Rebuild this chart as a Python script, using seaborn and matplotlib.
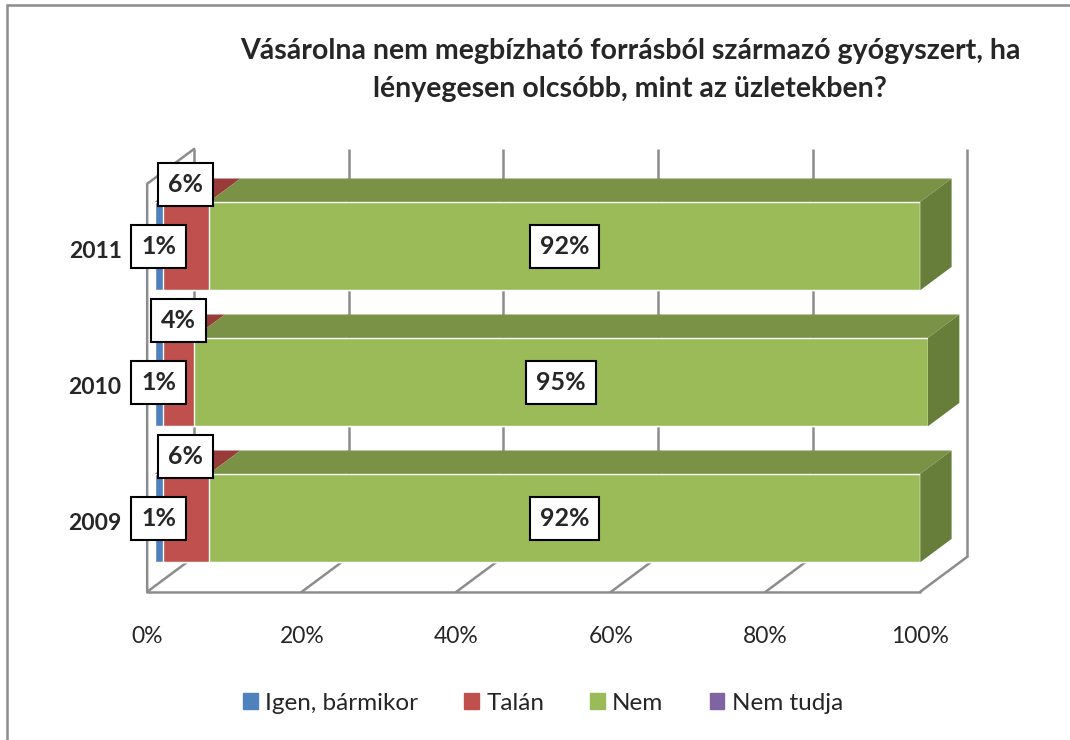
import numpy as np
import pandas as pd
import seaborn as sns
import matplotlib.pyplot as plt
from matplotlib.patches import Patch, Rectangle

# data
years = ['2011', '2010', '2009']
series = ['Igen, bármikor', 'Talán', 'Nem', 'Nem tudja']
igen = [1, 1, 1]
talan = [6, 4, 6]
nem = [92, 95, 92]
nem_tudja = [0, 0, 0]
ticks = [0, 20, 40, 60, 80, 100]
title = 'Vásárolna nem megbízható forrásból származó gyógyszert, ha\nlényegesen olcsóbb, mint az üzletekben?'

front = ['#4F81BD', '#C0504D', '#9BBB59', '#8064A2']
top = ['#3C679A', '#983C3A', '#7A9246', '#654F82']
side = ['#35598A', '#86322F', '#677D3A', '#574473']
grid_c = '#8C8C8C'

# fake 3d: depth offset in data units, bars sit between depth Z0 and Z1
DX, DY = 6.08, 0.257
Z0, Z1 = 1 / 6, 5 / 6
BAR_H = 0.65
Y_TOP, Y_BOT = -0.5, 2.5


def proj(x, y, z):
    return x + (z - Z0) * DX, y - (z - Z0) * DY


sns.set_theme(style='white')
plt.rcParams['font.family'] = ['Lato', 'DejaVu Sans']

fig = plt.figure(figsize=(10.7, 7.4), dpi=100)
ax = fig.add_axes([0, 0, 1, 1])

df = pd.DataFrame({'year': years, 'igen': igen, 'talan': talan,
                   'nem': nem, 'nem_tudja': nem_tudja})
layers = np.cumsum(df[['igen', 'talan', 'nem', 'nem_tudja']].to_numpy(), axis=1)

# stacked bars: draw cumulative totals from largest to smallest
for i in range(3, -1, -1):
    sns.barplot(x=layers[:, i], y=years, order=years, orient='h', color=front[i],
                saturation=1, width=BAR_H, errorbar=None, ax=ax, zorder=3)

# back wall verticals and floor diagonals
for t in ticks:
    bx0, by0 = proj(t, Y_TOP, 1)
    bx1, by1 = proj(t, Y_BOT, 1)
    ax.plot([bx0, bx1], [by0, by1], color=grid_c, lw=1.8, zorder=1, solid_capstyle='butt')
    fx, fy = proj(t, Y_BOT, 0)
    ax.plot([fx, bx1], [fy, by1], color=grid_c, lw=1.8, zorder=1)

# floor front edge, left wall edges
p = [proj(0, Y_BOT, 0), proj(100, Y_BOT, 0)]
ax.plot([p[0][0], p[1][0]], [p[0][1], p[1][1]], color=grid_c, lw=1.8, zorder=1)
p = [proj(0, Y_BOT, 0), proj(0, Y_TOP, 0), proj(0, Y_TOP, 1)]
ax.plot([q[0] for q in p], [q[1] for q in p], color=grid_c, lw=1.8, zorder=1)

# top and side faces of the bars
for r, yr in enumerate(years):
    yt, yb = r - BAR_H / 2, r + BAR_H / 2
    x0 = 0
    for i in range(4):
        x1 = layers[r, i]
        if x1 > x0:
            pts = [proj(x0, yt, Z0), proj(x1, yt, Z0), proj(x1, yt, Z1), proj(x0, yt, Z1)]
            ax.fill([q[0] for q in pts], [q[1] for q in pts], color=top[i], lw=0, zorder=3)
            last = i
        x0 = x1
    xe = layers[r, -1]
    pts = [proj(xe, yt, Z0), proj(xe, yb, Z0), proj(xe, yb, Z1), proj(xe, yt, Z1)]
    ax.fill([q[0] for q in pts], [q[1] for q in pts], color=side[last], lw=0, zorder=3)

# value labels
box = dict(boxstyle='square,pad=0.4', fc='white', ec='black', lw=1.5)
lab_kw = dict(ha='center', va='center', fontsize=18, fontweight='bold', bbox=box, zorder=6)
for r in range(len(years)):
    ax.text(igen[r] / 2, r, f'{igen[r]}%', **lab_kw)
    ax.text(igen[r] + talan[r] / 2, r - 0.45, f'{talan[r]}%', **lab_kw)
    ax.text(layers[r, 1] + nem[r] / 2, r, f'{nem[r]}%', **lab_kw)
    fx, fy = proj(0, r, 0)
    ax.text(fx - 3.3, fy, years[r], ha='right', va='center', fontsize=16.5, fontweight='bold')

# x tick labels on the front plane
for t in ticks:
    fx, fy = proj(t, Y_BOT, 0)
    ax.text(fx, fy + 0.33, f'{t}%', ha='center', va='center', fontsize=16.5)

ax.set_xlim(-155 / 7.73, (1070 - 155) / 7.73)
ax.set_ylim((740 - 246) / 136, -246 / 136)
ax.axis('off')

fig.text(630 / 1070, 1 - 38 / 740, title, ha='center', va='top', fontsize=20.5,
         fontweight='bold', linespacing=1.55)

handles = [Patch(color=c) for c in front]
fig.legend(handles, series, loc='center', bbox_to_anchor=(543 / 1070, 1 - 703 / 740),
           ncol=4, frameon=False, fontsize=17.5, handlelength=0.6, handleheight=0.6,
           handletextpad=0.3, columnspacing=1.9)

fig.add_artist(Rectangle((7 / 1070, -0.01), 1.1, 1 - 5 / 740 + 0.01, transform=fig.transFigure,
                         fill=False, ec=grid_c, lw=1.8))

fig.savefig('out.png', dpi=100)
